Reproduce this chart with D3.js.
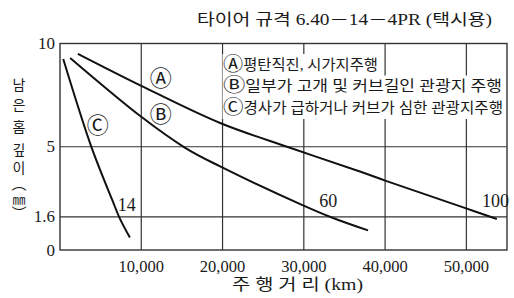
<!DOCTYPE html>
<html><head><meta charset="utf-8">
<script src="https://cdn.jsdelivr.net/npm/d3@7"></script>
<style>body{margin:0;background:#fff}svg{display:block}</style>
</head><body>
<svg id="c" width="514" height="298"></svg>
<script>
// ---- data ----
const xTicks = [10000, 20000, 30000, 40000, 50000];
const xTickLabels = ["10,000", "20,000", "30,000", "40,000", "50,000"];
const yTicks = [0, 1.6, 5, 10];
const yTickLabels = ["0", "1.6", "5", "10"];
const seriesNames = ["A", "B", "C"];
const seriesEndLabels = ["100", "60", "14"];
// [km, remaining tread depth mm]
const seriesA = [[2200, 9.5], [10000, 7.95], [19700, 6.15], [28300, 4.95], [36900, 3.8], [40100, 3.35], [49700, 2.05], [53750, 1.5]];
const seriesB = [[1250, 9.3], [10000, 6.45], [15400, 4.95], [19700, 4.05], [29700, 2.2], [33600, 1.55], [37900, 0.95]];
const seriesC = [[400, 9.25], [3870, 4.98], [6400, 2.45], [7370, 1.52], [8600, 0.6]];
const legendMarks = ["Ⓐ", "Ⓑ", "Ⓒ"];
const legendLines = ["평탄직진, 시가지주행", "일부가 고개 및 커브길인 관광지 주행", "경사가 급하거나 커브가 심한 관광지주행"];
const title = "타이어 규격 6.40－14－4PR (택시용)";
const xTitle = "주 행 거 리 (km)";
const yTitleChars = ["남", "은", "홈", "깊", "이", "︵", "㎜", "︶"];

// ---- drawing ----
const FONT = "'Liberation Serif', 'Noto Sans CJK KR', serif";
const svg = d3.select("#c");
const x = d3.scaleLinear().domain([0, 55000]).range([60, 507]);
const y = d3.scaleLinear().domain([0, 10]).range([250, 43.5]);
const ink = "#1a1a1a";

// grid
const g = svg.append("g");
g.selectAll("line.v").data(xTicks).join("line")
  .attr("x1", d => x(d)).attr("x2", d => x(d))
  .attr("y1", y(10)).attr("y2", y(0))
  .attr("stroke", "#333").attr("stroke-width", 1.2);
g.selectAll("line.h").data([1.6, 5]).join("line")
  .attr("x1", x(0)).attr("x2", x(55000))
  .attr("y1", d => y(d)).attr("y2", d => y(d))
  .attr("stroke", "#333").attr("stroke-width", 1.2);
g.append("rect").attr("x", x(0)).attr("y", y(10))
  .attr("width", x(55000) - x(0)).attr("height", y(0) - y(10))
  .attr("fill", "none").attr("stroke", "#333").attr("stroke-width", 1.4);

// legend (white background per line)
const legW = [157, 281, 282];
const legTop = 54, legH = 21.5, legX = 223;
svg.selectAll("rect.leg").data(legendLines).join("rect")
  .attr("x", legX - 0.5).attr("y", (d, i) => legTop + i * legH)
  .attr("width", (d, i) => legW[i]).attr("height", legH + 0.5)
  .attr("fill", "#fff");
const lt = svg.selectAll("text.leg").data(legendLines).join("text")
  .attr("x", legX).attr("y", (d, i) => legTop + i * legH + 15.5)
  .attr("font-family", FONT).attr("font-size", 14.5).attr("fill", ink)
  .attr("textLength", (d, i) => legW[i] - 2).attr("lengthAdjust", "spacingAndGlyphs");
lt.append("tspan").attr("font-size", 19).attr("dy", 1).text((d, i) => legendMarks[i]);
lt.append("tspan").attr("dy", -1).text(d => d);

// curves
const line = d3.line().x(d => x(d[0])).y(d => y(d[1])).curve(d3.curveCatmullRom.alpha(0.5));
svg.selectAll("path.s").data([seriesA, seriesB, seriesC]).join("path")
  .attr("d", line).attr("fill", "none").attr("stroke", "#111").attr("stroke-width", 2);

// circled labels on curves
const circPos = [[12400, 8.3], [12400, 6.55], [4650, 6.05]];
svg.selectAll("text.circ").data(seriesNames).join("text")
  .attr("x", (d, i) => x(circPos[i][0])).attr("y", (d, i) => y(circPos[i][1]))
  .attr("text-anchor", "middle").attr("dominant-baseline", "central")
  .attr("font-family", FONT).attr("font-size", 22).attr("fill", ink)
  .text(d => ({A: "Ⓐ", B: "Ⓑ", C: "Ⓒ"})[d]);

// end labels
const endPos = [[53600, 2.38], [33000, 2.35], [8200, 2.2]];
svg.selectAll("text.end").data(seriesEndLabels).join("text")
  .attr("x", (d, i) => x(endPos[i][0])).attr("y", (d, i) => y(endPos[i][1]))
  .attr("text-anchor", "middle").attr("dominant-baseline", "central")
  .attr("font-family", FONT).attr("font-size", 18).attr("fill", ink)
  .text(d => d);

// axes tick labels
svg.selectAll("text.xt").data(xTicks).join("text")
  .attr("x", d => x(d)).attr("y", 271.5).attr("text-anchor", "middle")
  .attr("font-family", FONT).attr("font-size", 16.5).attr("fill", ink)
  .text((d, i) => xTickLabels[i]);
svg.selectAll("text.yt").data(yTicks).join("text")
  .attr("x", 55).attr("y", d => y(d)).attr("text-anchor", "end")
  .attr("dominant-baseline", "central")
  .attr("font-family", FONT).attr("font-size", 17).attr("fill", ink)
  .text((d, i) => yTickLabels[i]);

// titles
svg.append("text").attr("x", 197).attr("y", 25)
  .attr("font-family", FONT).attr("font-size", 16).attr("fill", ink)
  .attr("textLength", 295).attr("lengthAdjust", "spacingAndGlyphs")
  .text(title);
svg.append("text").attr("x", 232).attr("y", 290)
  .attr("font-family", FONT).attr("font-size", 16).attr("fill", ink)
  .attr("textLength", 131).attr("lengthAdjust", "spacingAndGlyphs")
  .text(xTitle);
const yPos = [85, 105, 127, 150, 168, 184, 199, 214];
const ySizes = [14, 14, 14, 14, 14, 15, 13, 15];
svg.selectAll("text.yl").data(yTitleChars).join("text")
  .attr("x", 19).attr("y", (d, i) => yPos[i])
  .attr("text-anchor", "middle").attr("dominant-baseline", "central")
  .attr("font-family", FONT).attr("font-size", (d, i) => ySizes[i]).attr("fill", ink)
  .text(d => d);
</script>
</body></html>
